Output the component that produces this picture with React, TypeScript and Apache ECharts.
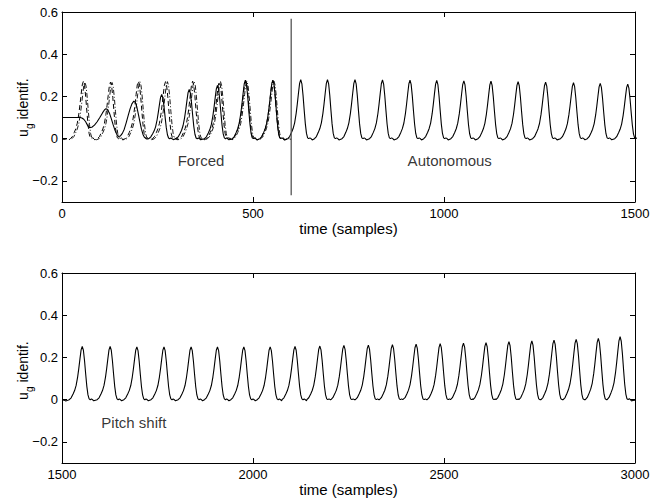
import React, { useEffect, useRef } from "react";
import * as echarts from "echarts";

// ---- pulse template read from one cycle (offset from peak in samples, value) ----
const PULSE_OFFSETS = [-34, -29, -24, -20, -16, -12, -9, -6, -3, 0, 3, 6, 9, 12, 15, 18, 21, 24, 27, 30];
const PULSE_SHAPE = [0.0, 0.01, 0.03, 0.048, 0.075, 0.12, 0.165, 0.215, 0.262, 0.28, 0.26, 0.205, 0.135, 0.07, 0.025, 0.004, 0.0, 0.004, 0.0, -0.006];
const PULSE_PEAK = 0.28;

// ---- top panel: identified signal (solid) ----
const solidLeadX = [0, 48, 52, 57, 62, 67, 72, 78, 85, 92, 99, 106, 111, 115, 119, 124, 129, 134, 139, 144, 148, 153, 158, 163, 168, 173, 178, 183, 188, 192, 196, 200, 204, 208, 212, 216, 220, 224];
const solidLeadY = [0.1, 0.1, 0.098, 0.092, 0.08, 0.062, 0.052, 0.054, 0.064, 0.08, 0.1, 0.122, 0.136, 0.142, 0.138, 0.122, 0.095, 0.065, 0.038, 0.018, 0.011, 0.013, 0.025, 0.045, 0.075, 0.108, 0.14, 0.165, 0.178, 0.172, 0.15, 0.115, 0.08, 0.045, 0.02, 0.006, 0.0, -0.002];
const solidPeaks = [261, 333, 407, 480, 552, 625, 695, 767, 839, 911, 981, 1052, 1123, 1194, 1266, 1339, 1409, 1481];
const solidHeights = [0.209, 0.233, 0.252, 0.277, 0.277, 0.28, 0.28, 0.28, 0.278, 0.277, 0.276, 0.274, 0.272, 0.27, 0.268, 0.265, 0.262, 0.258];

// ---- top panel: reference signals (dashed, dash-dot) in the forced part ----
const dashedLeadX = [0, 6, 12, 18];
const dashedLeadY = [0.0, -0.004, 0.0, -0.006];
const dashedPeaks = [56, 127, 200, 271, 342, 412, 481, 552];
const dashedHeights = [0.272, 0.268, 0.272, 0.27, 0.272, 0.27, 0.275, 0.275];
const dashedTailX = [590, 600];
const dashedTailY = [0.0, -0.003];

const dashDotLeadX = [0, 10, 20];
const dashDotLeadY = [0.0, 0.0, -0.004];
const dashDotPeaks = [60, 131, 204, 276, 346, 415, 484, 555];
const dashDotHeights = [0.268, 0.266, 0.27, 0.27, 0.27, 0.27, 0.272, 0.272];
const dashDotTailX = [592, 600];
const dashDotTailY = [0.0, -0.002];

// switch instant
const switchX = [600, 600];
const switchY = [0.568, -0.268];

// ---- bottom panel: pitch shift ----
const bottomLeadX = [1500, 1505, 1510, 1515];
const bottomLeadY = [0.0, -0.002, -0.006, -0.003];
const bottomPeaks = [1553, 1626, 1696, 1767, 1838, 1907, 1976, 2045, 2110, 2175, 2238, 2302, 2365, 2427, 2490, 2551, 2610, 2670, 2730, 2788, 2846, 2904, 2961];
const bottomHeights = [0.252, 0.252, 0.25, 0.25, 0.25, 0.25, 0.25, 0.25, 0.252, 0.254, 0.257, 0.258, 0.26, 0.263, 0.265, 0.268, 0.27, 0.275, 0.278, 0.282, 0.286, 0.29, 0.298];
const bottomTailX = [2994, 3000];
const bottomTailY = [-0.004, -0.002];

// ---- annotations ----
const topLabels = [
  { name: "Forced", x: 364, y: -0.105 },
  { name: "Autonomous", x: 1015, y: -0.105 },
];
const bottomLabels = [{ name: "Pitch shift", x: 1688, y: -0.106 }];

// ---- axes ----
const yTicks = [-0.2, 0, 0.2, 0.4, 0.6];
const yMin = -0.3;
const yMax = 0.6;
const topXRange = [0, 1500];
const bottomXRange = [1500, 3000];
const xInterval = 500;

const FONT = "'Liberation Sans', Arial, Helvetica, sans-serif";

function pairs(xs: number[], ys: number[]) {
  return xs.map((x, i) => [x, ys[i]]);
}
// place the read template at each read peak; a pulse's tail stops where the next pulse starts
function pulses(peaks: number[], heights: number[]) {
  const out: number[][] = [];
  peaks.forEach((p, k) => {
    const nextStart = k + 1 < peaks.length ? peaks[k + 1] + PULSE_OFFSETS[0] : Infinity;
    PULSE_OFFSETS.forEach((o, i) => {
      if (p + o < nextStart) out.push([p + o, (PULSE_SHAPE[i] * heights[k]) / PULSE_PEAK]);
    });
  });
  return out;
}

const fmtY = (v: number) => (v === 0 ? "0" : String(Math.round(v * 10) / 10).replace("-", "\u2212"));

export default function App() {
  const ref = useRef<HTMLDivElement>(null);
  useEffect(() => {
    if (!ref.current) return;
    const chart = echarts.init(ref.current, undefined, { renderer: "svg" });

    const solidTop = [...pairs(solidLeadX, solidLeadY), ...pulses(solidPeaks, solidHeights)];
    const dashedTop = [...pairs(dashedLeadX, dashedLeadY), ...pulses(dashedPeaks, dashedHeights), ...pairs(dashedTailX, dashedTailY)];
    const dashDotTop = [...pairs(dashDotLeadX, dashDotLeadY), ...pulses(dashDotPeaks, dashDotHeights), ...pairs(dashDotTailX, dashDotTailY)];
    const bottom = [...pairs(bottomLeadX, bottomLeadY), ...pulses(bottomPeaks, bottomHeights), ...pairs(bottomTailX, bottomTailY)];

    const lineBlack = { color: "#000", width: 1 };
    const mkX = (grid: number, range: number[], pos: "top" | "bottom", nameGap: number) => ({
      gridIndex: grid,
      type: "value",
      min: range[0],
      max: range[1],
      interval: xInterval,
      position: pos,
      name: pos === "bottom" ? "time (samples)" : "",
      nameLocation: "middle",
      nameGap,
      nameTextStyle: { fontSize: 15, color: "#000", fontFamily: FONT },
      axisLine: { show: true, onZero: false, lineStyle: lineBlack },
      axisTick: { show: true, inside: true, length: 5, lineStyle: lineBlack },
      axisLabel: {
        show: pos === "bottom",
        fontSize: 13,
        color: "#000",
        margin: 5,
        fontFamily: FONT,
        formatter: (v: number) => String(v),
      },
      splitLine: { show: false },
    });
    const mkY = (grid: number, pos: "left" | "right") => ({
      gridIndex: grid,
      type: "value",
      min: yMin,
      max: yMax,
      position: pos,
      axisLine: { show: true, onZero: false, lineStyle: lineBlack },
      axisTick: { show: true, inside: true, length: 5, lineStyle: lineBlack, customValues: yTicks },
      axisLabel: {
        show: pos === "left",
        fontSize: 13,
        color: "#000",
        margin: 4,
        fontFamily: FONT,
        customValues: yTicks,
        formatter: (v: number) => fmtY(v),
      },
      splitLine: { show: false },
    });

    const labelSeries = (xi: number, yi: number, labels: { name: string; x: number; y: number }[]) => ({
      type: "scatter",
      xAxisIndex: xi,
      yAxisIndex: yi,
      symbolSize: 1,
      itemStyle: { color: "rgba(0,0,0,0)" },
      silent: true,
      z: 5,
      label: {
        show: true,
        position: "inside",
        formatter: "{b}",
        fontSize: 15,
        color: "#000",
        fontFamily: FONT,
      },
      data: labels.map((l) => ({ name: l.name, value: [l.x, l.y] })),
    });

    const ylabel = (y: number) => ({
      type: "group",
      x: 22.5,
      y,
      rotation: Math.PI / 2,
      children: [
        { type: "text", x: 0, y: 0, style: { text: "u", fontSize: 14, fontFamily: FONT, fill: "#000", align: "left", verticalAlign: "middle" } },
        { type: "text", x: 8, y: 6.5, style: { text: "g", fontSize: 10, fontFamily: FONT, fill: "#000", align: "left", verticalAlign: "middle" } },
        { type: "text", x: 17.5, y: 0, style: { text: "identif.", fontSize: 14, fontFamily: FONT, fill: "#000", align: "left", verticalAlign: "middle" } },
      ],
    });

    chart.setOption({
      animation: false,
      backgroundColor: "#fff",
      grid: [
        { left: 62, top: 12, width: 573, height: 190 },
        { left: 62, top: 273, width: 573, height: 190 },
      ],
      xAxis: [
        mkX(0, topXRange, "bottom", 18.5),
        mkX(0, topXRange, "top", 0),
        mkX(1, bottomXRange, "bottom", 12.5),
        mkX(1, bottomXRange, "top", 0),
      ],
      yAxis: [mkY(0, "left"), mkY(0, "right"), mkY(1, "left"), mkY(1, "right")],
      graphic: [ylabel(137), ylabel(400)],
      series: [
        {
          type: "line",
          xAxisIndex: 0,
          yAxisIndex: 0,
          showSymbol: false,
          symbol: "none",
          lineStyle: { color: "#000", width: 0.9, type: [5, 2, 1, 2] },
          data: dashDotTop,
        },
        {
          type: "line",
          xAxisIndex: 0,
          yAxisIndex: 0,
          showSymbol: false,
          symbol: "none",
          lineStyle: { color: "#000", width: 1, type: [5, 3] },
          data: dashedTop,
        },
        {
          type: "line",
          xAxisIndex: 0,
          yAxisIndex: 0,
          showSymbol: false,
          symbol: "none",
          lineStyle: { color: "#000", width: 1.1 },
          data: solidTop,
        },
        {
          type: "line",
          xAxisIndex: 0,
          yAxisIndex: 0,
          showSymbol: false,
          symbol: "none",
          lineStyle: { color: "#555", width: 1.3 },
          data: pairs(switchX, switchY),
        },
        labelSeries(0, 0, topLabels),
        {
          type: "line",
          xAxisIndex: 2,
          yAxisIndex: 2,
          showSymbol: false,
          symbol: "none",
          lineStyle: { color: "#000", width: 1.1 },
          data: bottom,
        },
        labelSeries(2, 2, bottomLabels),
      ],
    });
    return () => chart.dispose();
  }, []);
  return <div ref={ref} style={{ position: "fixed", left: 0, top: 0, width: 657, height: 504, background: "#fff" }} />;
}
